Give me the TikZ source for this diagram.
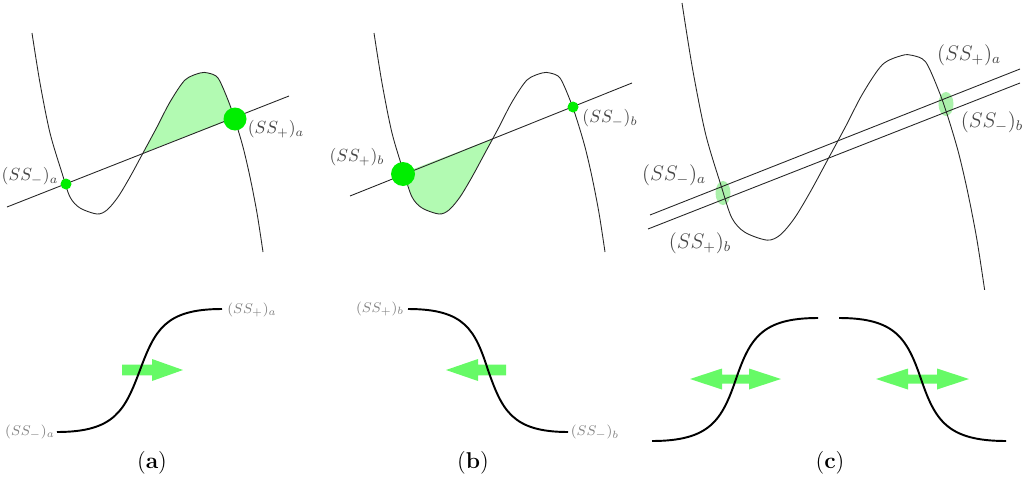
\documentclass[tikz,border=0pt]{standalone}
\usetikzlibrary{arrows.meta}
\definecolor{dotgreen}{RGB}{0,238,0}
\definecolor{fillgreen}{RGB}{178,250,178}
\definecolor{arrgreen}{RGB}{102,250,102}
\definecolor{ellgreen}{RGB}{150,238,150}
\definecolor{lblgray}{RGB}{70,70,70}
\definecolor{lightlbl}{RGB}{130,130,130}
\tikzset{
  thincurve/.style={line width=0.5pt, draw=black!85, line join=round},
  thickcurve/.style={line width=1.1pt, draw=black},
  toplbl/.style={text=lblgray, font=\fontsize{10}{12}\selectfont, inner sep=0pt},
  biglbl/.style={text=lblgray, font=\fontsize{12}{14}\selectfont, inner sep=0pt},
  botlbl/.style={text=lightlbl, font=\fontsize{8.5}{10}\selectfont, inner sep=0pt},
  caption/.style={font=\fontsize{13}{15}\selectfont, inner sep=0pt},
  greenarrow/.style={fill=arrgreen, draw=none}
}
\begin{document}
\begin{tikzpicture}[x=0.02cm, y=-0.02cm]
\useasboundingbox (0,0) rectangle (1024,480);

% ---------- panel (a) top ----------
\fill[fillgreen] plot[smooth] coordinates {(143,153) (157,127) (170,102) (185,80) (200,73) (208,73) (218,78) (228,100) (235,118)} -- cycle;
\draw[thincurve] plot[smooth] coordinates {(32,33) (40,83) (50,133) (62,173) (70,197) (80,208) (97,214) (107,210) (118,197) (130,177) (143,153) (157,127) (170,102) (185,80) (200,73) (208,73) (218,78) (228,100) (235,120) (243,147) (250,177) (257,213) (263,252)};
\draw[thincurve] (7,207) -- (289,96);
\fill[dotgreen] (66,184) circle (5.5);
\fill[dotgreen] (235,119) circle (11.5);
\node[toplbl] (la1) at (30,176) {$(SS_-)_a$};
\node[toplbl] (la2) at (276,129) {$(SS_+)_a$};

% ---------- panel (b) top ----------
\begin{scope}[shift={(342,0)}]
\fill[fillgreen] plot[smooth] coordinates {(61,173) (66,184) (70,197) (80,208) (97,214) (107,210) (118,197) (130,177) (143,153) (150,139)} -- cycle;
\draw[thincurve] plot[smooth] coordinates {(32,33) (40,83) (50,133) (62,173) (70,197) (80,208) (97,214) (107,210) (118,197) (130,177) (143,153) (157,127) (170,102) (185,80) (200,73) (208,73) (218,78) (228,100) (235,120) (243,147) (250,177) (257,213) (263,252)};
\draw[thincurve] (8,196) -- (290,83);
\end{scope}
\fill[dotgreen] (403,174) circle (12);
\fill[dotgreen] (573,107) circle (5.5);
\node[toplbl] (lb1) at (357,157) {$(SS_+)_b$};
\node[toplbl] (lb2) at (610,118) {$(SS_-)_b$};

% ---------- panel (c) top ----------
\fill[ellgreen, opacity=0.8] (723,193) ellipse (7.5 and 12);
\fill[ellgreen, opacity=0.8] (946,104) ellipse (7.5 and 12);
\begin{scope}[shift={(640.1,-40.2)}, scale=1.31]
\draw[thincurve] plot[smooth] coordinates {(32,33) (40,83) (50,133) (62,173) (70,197) (80,208) (97,214) (107,210) (118,197) (130,177) (143,153) (157,127) (170,102) (185,80) (200,73) (208,73) (218,78) (228,100) (235,120) (243,147) (250,177) (257,213) (263,252)};
\end{scope}
\draw[thincurve] (650,215) -- (1020,69);
\draw[thincurve] (648,229) -- (1020,83);
\node[biglbl] (lc1) at (674,175) {$(SS_-)_a$};
\node[biglbl] (lc2) at (700,243) {$(SS_+)_b$};
\node[biglbl] (lc3) at (969,55) {$(SS_+)_a$};
\node[biglbl] (lc4) at (992,122) {$(SS_-)_b$};

% ---------- bottom (a) ----------
\fill[greenarrow] (122,364.7) -- (152,364.7) -- (152,359) -- (183,370) -- (152,381) -- (152,375.3) -- (122,375.3) -- cycle;
\draw[thickcurve] (57,432) .. controls (115,432) and (125,410) .. (140,370) .. controls (155,330) and (165,309) .. (222,309);
\node[botlbl] (ba1) at (30,432) {$(SS_-)_a$};
\node[botlbl] (ba2) at (252,310) {$(SS_+)_a$};

% ---------- bottom (b) ----------
\fill[greenarrow] (506,364.7) -- (478,364.7) -- (478,359) -- (446,370) -- (478,381) -- (478,375.3) -- (506,375.3) -- cycle;
\draw[thickcurve] (408,309) .. controls (465,309) and (475,330) .. (488,370) .. controls (502,410) and (512,432) .. (568,432);
\node[botlbl] (bb1) at (380,309) {$(SS_+)_b$};
\node[botlbl] (bb2) at (595,432) {$(SS_-)_b$};

% ---------- bottom (c) ----------
\fill[greenarrow] (690,379) -- (722,368.5) -- (722,374.5) -- (749,374.5) -- (749,368.5) -- (781,379) -- (749,389.5) -- (749,383.5) -- (722,383.5) -- (722,389.5) -- cycle;
\fill[greenarrow] (876,379) -- (908,368.5) -- (908,374.5) -- (937,374.5) -- (937,368.5) -- (969,379) -- (937,389.5) -- (937,383.5) -- (908,383.5) -- (908,389.5) -- cycle;
\draw[thickcurve] (652,441) .. controls (710,441) and (722,420) .. (736,379) .. controls (750,338) and (762,318) .. (818,318);
\draw[thickcurve] (839,318) .. controls (895,318) and (907,338) .. (921,379) .. controls (935,420) and (947,441) .. (1006,441);

% ---------- captions ----------
\node[caption] (capa) at (152,463) {(\textbf{a})};
\node[caption] (capb) at (473,463) {(\textbf{b})};
\node[caption] (capc) at (830,463) {(\textbf{c})};
\end{tikzpicture}
\end{document}
